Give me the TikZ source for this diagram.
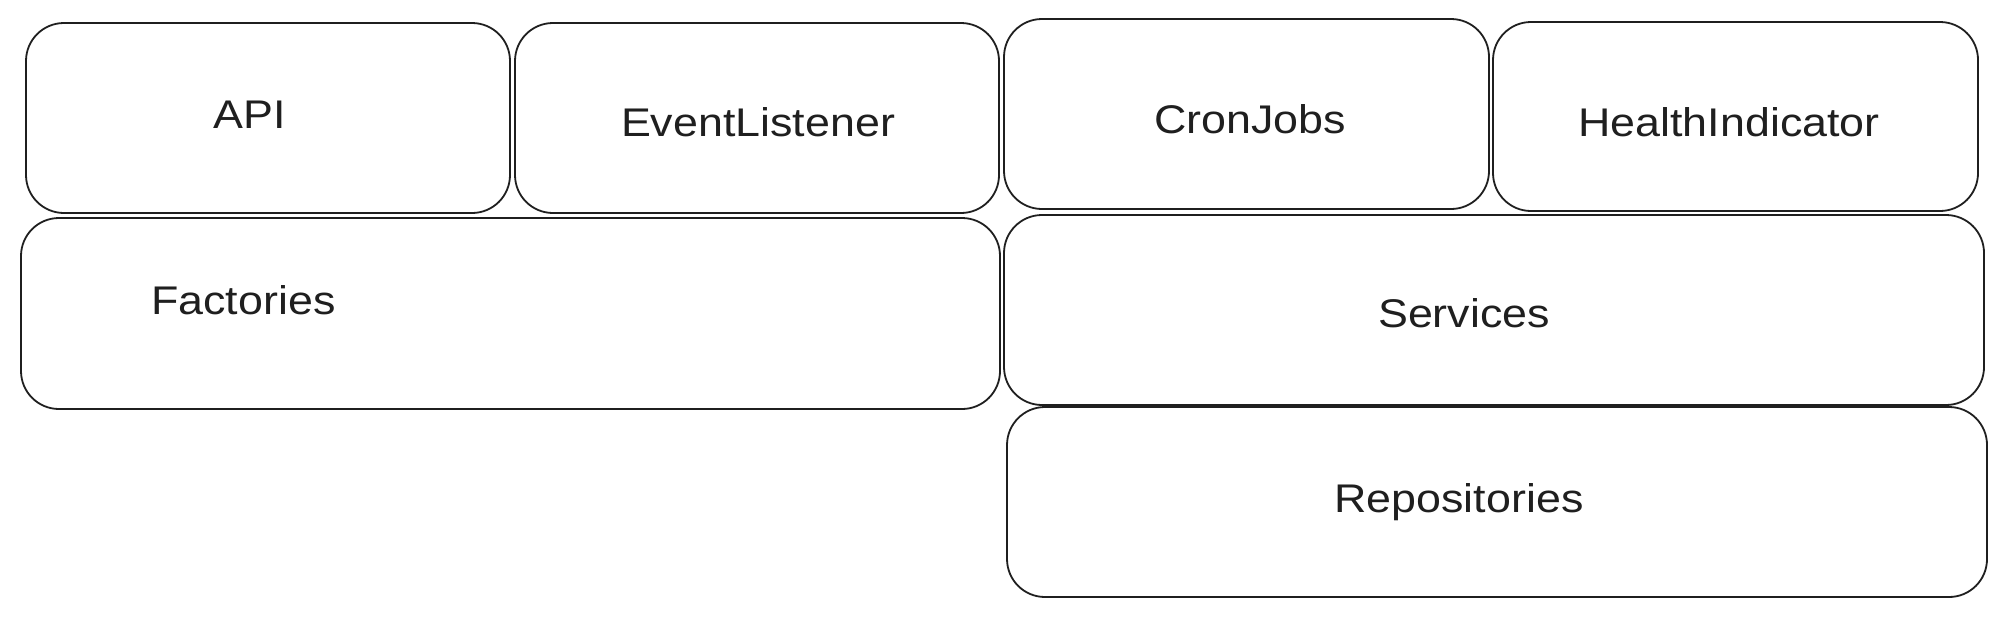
\documentclass[tikz,border=0pt]{standalone}
\usepackage{fontspec}
\setmainfont{Liberation Sans}
\begin{document}
\begin{tikzpicture}[x=1pt,y=-1pt,
  layer/.style={draw=black!88,line width=1.8pt,rounded corners=38pt,inner sep=0pt,fill=white},
  lbl/.style={font=\fontsize{40}{46}\selectfont,text=black!88,inner sep=0pt,xscale=1.12}]
\useasboundingbox[fill=white] (0,0) rectangle (2009,619);
% boxes: corners in image pixel coordinates
\draw[layer] (26,23) rectangle (510,213) coordinate[pos=0.5] (api);
\draw[layer] (515,23) rectangle (999,213) coordinate[pos=0.5] (evt);
\draw[layer] (1004,19) rectangle (1489,209) coordinate[pos=0.5] (cron);
\draw[layer] (1493,22) rectangle (1978,211) coordinate[pos=0.5] (health);
\draw[layer] (21,218) rectangle (1000,409) coordinate[pos=0.5] (fact);
\draw[layer] (1004,215) rectangle (1984,405) coordinate[pos=0.5] (serv);
\draw[layer] (1007,407) rectangle (1987,597) coordinate[pos=0.5] (repo);
% labels
\node[lbl] (apiT) at (250,115) {API};
\node[lbl] (evtT) at (758,122) {EventListener};
\node[lbl] (cronT) at (1250,119) {CronJobs};
\node[lbl] (healthT) at (1729,122) {HealthIndicator};
\node[lbl,anchor=west] (factT) at (151,300) {Factories};
\node[lbl] (servT) at (1464,313) {Services};
\node[lbl] (repoT) at (1459,502) {Repositories};
\end{tikzpicture}
\end{document}
